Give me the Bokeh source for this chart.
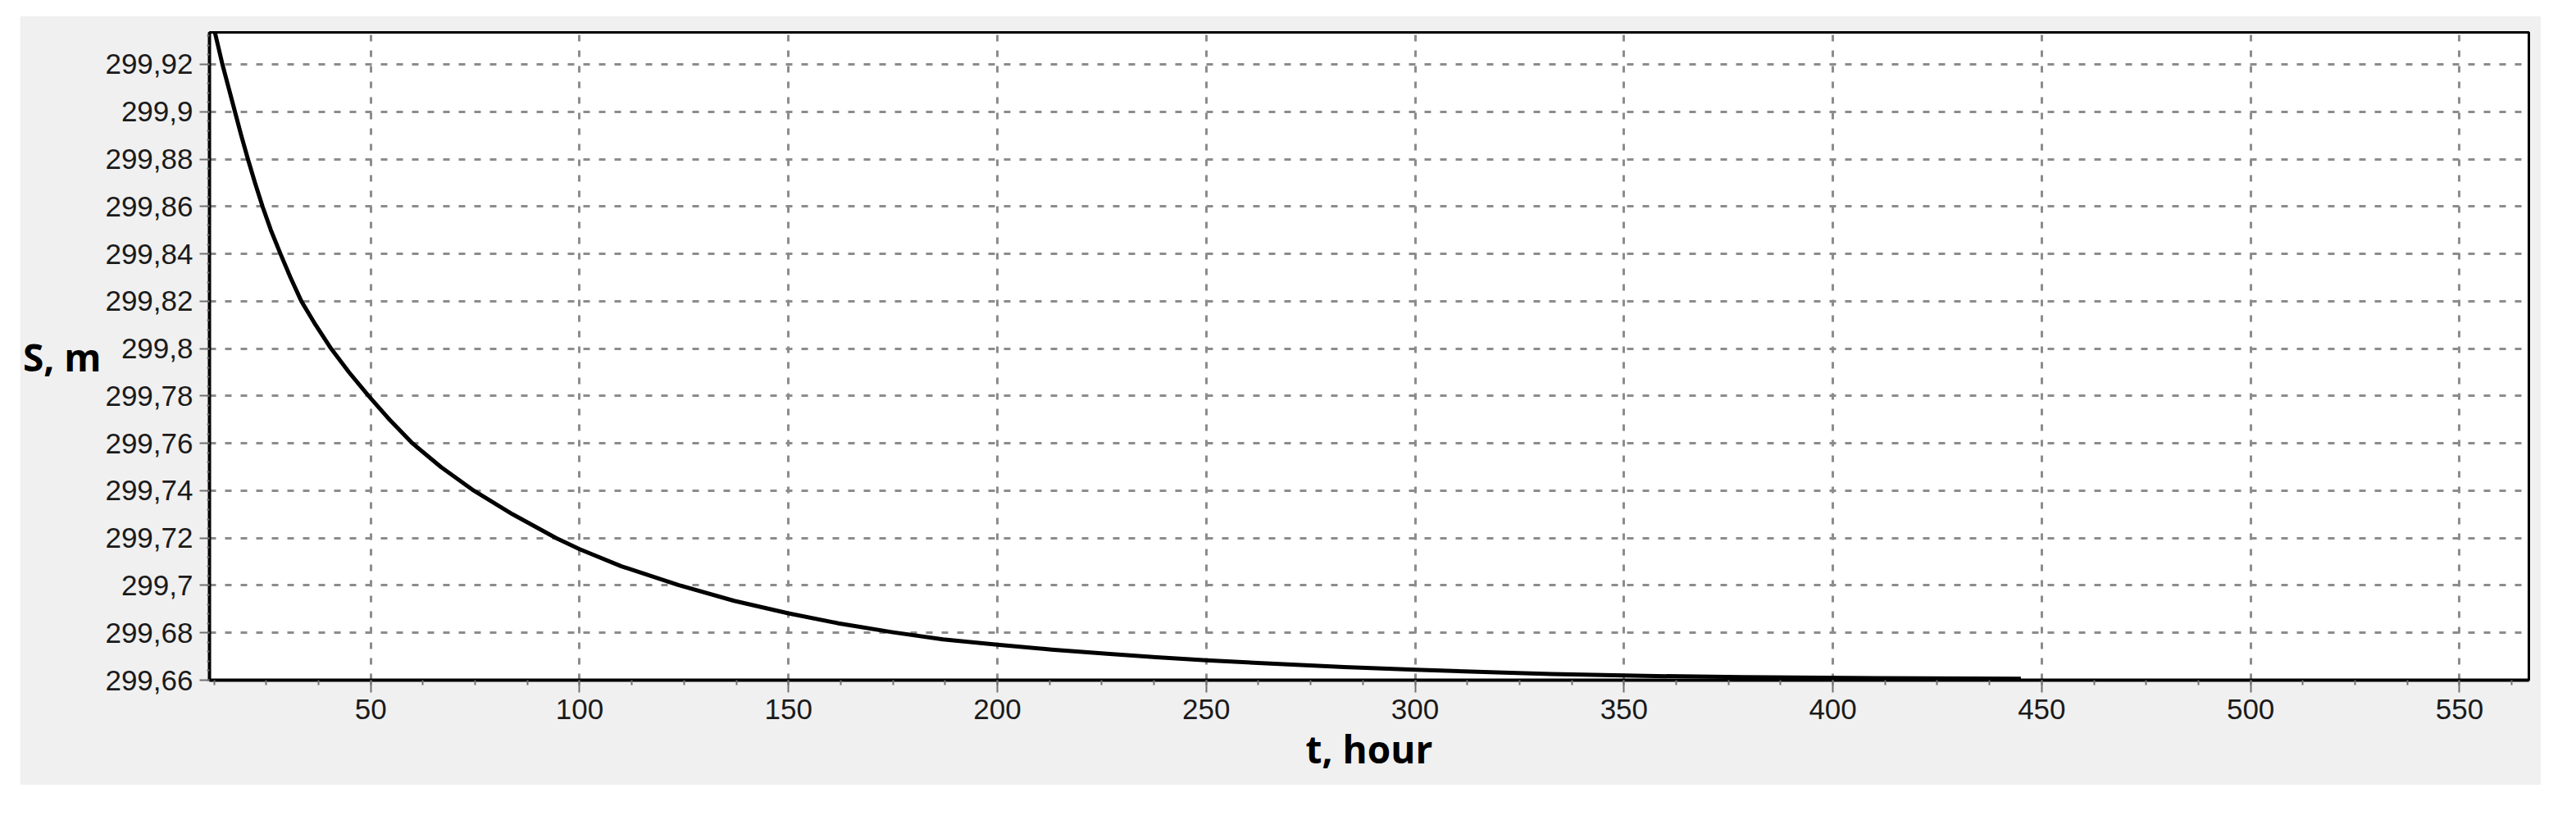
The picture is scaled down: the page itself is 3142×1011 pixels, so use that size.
from bokeh.plotting import figure
from bokeh.models import FixedTicker, Range1d
from bokeh.embed import file_html
from bokeh.resources import INLINE

# Data
t_hour = [11.4, 12.7, 14.5, 16.0, 17.5, 19.0, 20.6, 22.3, 24.1, 26.1, 28.4, 30.8,
          33.4, 36.8, 40.5, 44.8, 49.5, 54.5, 60.0, 66.8, 74.7, 84.0, 94.4, 100.0,
          110.0, 123.6, 137.0, 150.0, 162.0, 174.7, 187.0, 200.0, 213.0, 226.9,
          238.0, 250.0, 267.5, 283.0, 300.0, 319.6, 332.7, 355.0, 378.0, 410.0,
          445.0]
s_m = [299.942, 299.9335, 299.92, 299.91, 299.90, 299.89, 299.88, 299.87, 299.86,
       299.85, 299.84, 299.83, 299.82, 299.81, 299.80, 299.79, 299.78, 299.77,
       299.76, 299.75, 299.74, 299.73, 299.72, 299.7153, 299.7081, 299.7002,
       299.6935, 299.6882, 299.684, 299.6803, 299.6772, 299.675, 299.6729,
       299.6711, 299.6697, 299.6684, 299.6668, 299.6655, 299.6644, 299.6633,
       299.6626, 299.6618, 299.6613, 299.6609, 299.6606]

x_ticks = [50, 100, 150, 200, 250, 300, 350, 400, 450, 500, 550]
x_minor = [12.5 * k for k in range(1, 46)]
y_ticks = [299.66, 299.68, 299.70, 299.72, 299.74, 299.76, 299.78, 299.80,
           299.82, 299.84, 299.86, 299.88, 299.90, 299.92]
y_tick_labels = ["299,66", "299,68", "299,7", "299,72", "299,74", "299,76", "299,78",
                 "299,8", "299,82", "299,84", "299,86", "299,88", "299,9", "299,92"]
y_minor = [299.66 + 0.004 * k for k in range(0, 69)]

x_title = "t, hour"
y_title = "S, m"

p = figure(width=3075, height=938, output_backend="svg", toolbar_location=None,
           x_range=Range1d(11.4, 566.6), y_range=Range1d(299.66, 299.9335),
           min_border_left=229, min_border_right=15, min_border_top=20,
           min_border_bottom=128)
p.margin = (19, 0, 0, 24)
p.border_fill_color = "#f0f0f0"
p.background_fill_color = "white"
p.outline_line_color = "black"
p.outline_line_width = 3

p.line(t_hour, s_m, line_color="black", line_width=5, line_join="round")

p.xaxis.ticker = FixedTicker(ticks=x_ticks, minor_ticks=x_minor)
p.yaxis.ticker = FixedTicker(ticks=y_ticks, minor_ticks=y_minor)
p.yaxis.major_label_overrides = dict(zip(y_ticks, y_tick_labels))

for ax in (p.xaxis[0], p.yaxis[0]):
    ax.axis_line_color = "black"
    ax.axis_line_width = 4
    ax.major_tick_line_color = "#707070"
    ax.major_tick_line_width = 2
    ax.minor_tick_line_color = "#707070"
    ax.minor_tick_line_width = 2
    ax.major_tick_in = 0
    ax.minor_tick_in = 0
    ax.major_label_text_font = "Liberation Sans"
    ax.major_label_text_font_size = "35px"
    ax.major_label_text_color = "#1a1a1a"
    ax.axis_label_text_font = "Open Sans"
    ax.axis_label_text_font_style = "bold"
    ax.axis_label_text_font_size = "46px"
    ax.axis_label_text_color = "black"

p.xaxis.major_tick_out = 15
p.xaxis.minor_tick_out = 6
p.xaxis.major_label_standoff = 8
p.xaxis.axis_label = x_title
p.xaxis.axis_label_standoff = 2

p.yaxis.major_tick_out = 12
p.yaxis.minor_tick_out = 3
p.yaxis.major_label_standoff = 8
p.yaxis.axis_label = y_title
p.yaxis.axis_label_orientation = "horizontal"
p.yaxis.axis_label_standoff = 2

for g in (p.xgrid[0], p.ygrid[0]):
    g.grid_line_color = "#8c8c8c"
    g.grid_line_width = 3
    g.grid_line_dash = "8 11"

open("out.html", "w").write(file_html(p, INLINE))
